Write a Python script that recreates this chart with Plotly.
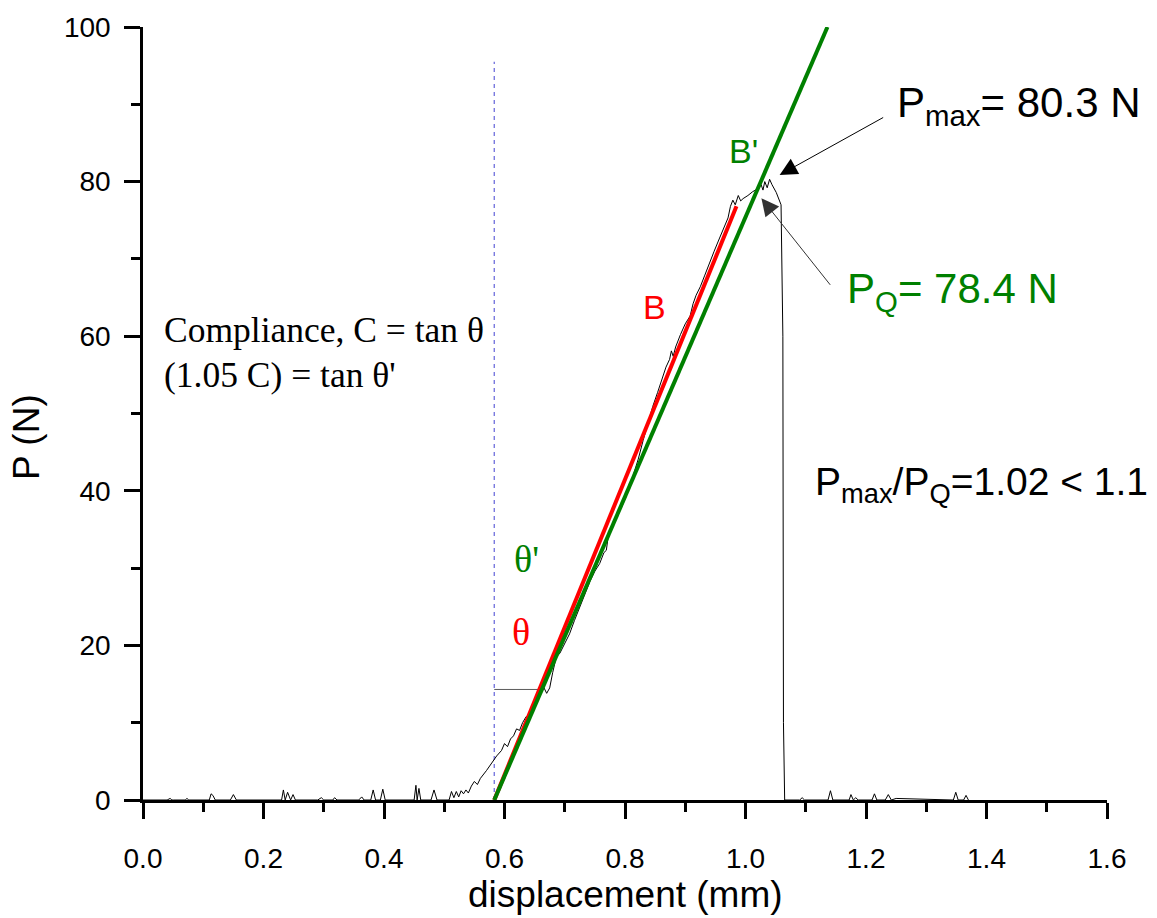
import plotly.graph_objects as go

# ---- data ----
disp = [0.0, 0.040, 0.045, 0.048, 0.051, 0.070, 0.073, 0.076, 0.110, 0.113, 0.116, 0.120,
        0.145, 0.150, 0.155, 0.230, 0.233, 0.236, 0.240, 0.245, 0.249, 0.253,
        0.290, 0.296, 0.300, 0.315, 0.318, 0.322, 0.358, 0.363, 0.367, 0.378, 0.382, 0.386,
        0.394, 0.398, 0.402, 0.450, 0.453, 0.455, 0.458, 0.461, 0.478, 0.483, 0.488, 0.500,
        0.508, 0.512, 0.516, 0.520, 0.524, 0.528, 0.532, 0.536, 0.540, 0.545, 0.550, 0.555,
        0.560, 0.570, 0.580, 0.587, 0.595, 0.600, 0.605, 0.610, 0.615, 0.620, 0.625, 0.630,
        0.636, 0.640, 0.645, 0.650, 0.655, 0.660, 0.665, 0.670, 0.675, 0.680, 0.686, 0.692,
        0.700, 0.708, 0.716, 0.725, 0.733, 0.742, 0.750, 0.758, 0.765, 0.769, 0.772, 0.780,
        0.790, 0.800, 0.808, 0.815, 0.822, 0.830, 0.838, 0.846, 0.854, 0.862, 0.868, 0.874,
        0.877, 0.880, 0.884, 0.892, 0.900, 0.908, 0.913, 0.918, 0.925, 0.932, 0.940, 0.948,
        0.957, 0.964, 0.971, 0.975, 0.979, 0.983, 0.988, 0.992, 0.996, 1.004, 1.012, 1.021,
        1.026, 1.029, 1.032, 1.036, 1.040, 1.044, 1.051, 1.059, 1.062, 1.063, 1.065,
        1.090, 1.094, 1.098, 1.137, 1.141, 1.145, 1.172, 1.175, 1.179, 1.183, 1.187,
        1.210, 1.214, 1.218, 1.232, 1.237, 1.242, 1.250, 1.345, 1.349, 1.353, 1.362, 1.366,
        1.370]
load = [0.0, 0.0, 0.2, 0.0, 0.0, 0.0, 0.2, 0.0, 0.0, 0.8, 0.6, 0.0,
        0.0, 0.7, 0.0, 0.0, 1.3, 0.0, 1.0, 0.0, 0.7, 0.0,
        0.0, 0.3, 0.0, 0.0, 0.3, 0.0, 0.0, 0.4, 0.0, 0.0, 1.3, 0.0,
        0.0, 1.4, 0.0, 0.0, 1.9, 0.0, 1.5, 0.0, 0.0, 1.3, 0.0, 0.0,
        0.0, 1.1, 0.3, 1.1, 0.4, 1.2, 0.8, 1.3, 0.9, 1.8, 2.4, 2.0,
        2.8, 3.8, 5.0, 5.7, 6.4, 7.3, 6.9, 7.9, 8.3, 9.2, 9.0, 10.0,
        10.8, 10.6, 11.4, 12.6, 13.4, 14.0, 14.6, 13.8, 14.5, 16.5, 18.5, 19.0,
        20.3, 21.5, 23.2, 25.0, 26.7, 28.3, 29.6, 30.6, 32.0, 32.3, 34.0, 35.4,
        37.2, 38.9, 40.6, 42.2, 44.1, 46.5, 48.8, 50.9, 52.7, 54.6, 56.0, 57.0,
        58.1, 57.4, 58.6, 60.2, 61.6, 62.6, 64.2, 65.3, 66.4, 67.8, 69.5, 71.0,
        72.7, 74.0, 75.3, 76.8, 77.6, 77.0, 78.2, 77.5, 77.8, 78.2, 78.7, 79.1,
        79.6, 78.9, 80.0, 79.2, 80.3, 79.6, 78.6, 77.0, 60.0, 10.0, 0.0,
        0.0, 0.3, 0.0, 0.0, 1.2, 0.0, 0.0, 0.7, 0.0, 0.3, 0.0,
        0.0, 0.8, 0.0, 0.0, 0.7, 0.0, 0.2, 0.0, 1.0, 0.0, 0.0, 0.6,
        0.0]

# secant lines (compliance C and 1.05 C), start at point A
red_x = [0.583, 0.985]
red_y = [0.0, 76.8]
green_x = [0.583, 1.136]
green_y = [0.0, 100.0]

# construction lines
dash_x = [0.583, 0.583]
dash_y = [0.0, 95.5]
hline_x = [0.583, 0.658]
hline_y = [14.3, 14.3]

x_ticks = [0.0, 0.2, 0.4, 0.6, 0.8, 1.0, 1.2, 1.4, 1.6]
y_ticks = [0, 20, 40, 60, 80, 100]

GREEN = "rgb(0,128,0)"
RED = "rgb(255,0,0)"
SANS = "Liberation Sans, Arial, sans-serif"
SERIF = "Liberation Serif, Times New Roman, serif"

fig = go.Figure()
fig.add_trace(go.Scatter(x=dash_x, y=dash_y, mode="lines",
                         line=dict(color="rgb(110,110,220)", width=1.3, dash="4px,4px")))
fig.add_trace(go.Scatter(x=hline_x, y=hline_y, mode="lines",
                         line=dict(color="rgb(90,90,90)", width=1)))
fig.add_trace(go.Scatter(x=disp, y=load, mode="lines",
                         line=dict(color="black", width=1)))
fig.add_trace(go.Scatter(x=red_x, y=red_y, mode="lines",
                         line=dict(color=RED, width=4)))
fig.add_trace(go.Scatter(x=green_x, y=green_y, mode="lines",
                         line=dict(color=GREEN, width=4)))

ann = []
def txt(x, y, s, size, color="black", family=SANS, xanchor="center", yanchor="middle"):
    ann.append(dict(x=x, y=y, xref="x", yref="y", text=s, showarrow=False,
                    font=dict(size=size, color=color, family=family),
                    xanchor=xanchor, yanchor=yanchor))

txt(1.2475, 89.9, "P<sub>max</sub>= 80.3 N", 42, xanchor="left")
txt(1.1646, 65.8, "P<sub>Q</sub>= 78.4 N", 42, color=GREEN, xanchor="left")
txt(1.1115, 40.8, "P<sub>max</sub>/P<sub>Q</sub>=1.02 < 1.1", 39, xanchor="left")
txt(0.0307, 60.77, "Compliance, C = tan θ", 35.5, family=SERIF, xanchor="left")
txt(0.0307, 54.97, "(1.05 C) = tan θ'", 35.5, family=SERIF, xanchor="left")
txt(0.637, 31.2, "θ'", 38, color=GREEN, family=SERIF)
txt(0.628, 21.7, "θ", 38, color=RED, family=SERIF)
txt(0.5723, -2.19, "A", 31, color=RED)
txt(0.849, 63.8, "B", 34, color=RED)
txt(0.997, 83.9, "B'", 34, color=GREEN)

# arrows
ann.append(dict(x=1.0567, y=80.86, ax=1.231, ay=88.4, xref="x", yref="y",
                axref="x", ayref="y", text="", showarrow=True, arrowhead=2,
                arrowsize=3.5, arrowwidth=1, arrowcolor="black"))
ann.append(dict(x=1.0264, y=77.85, ax=1.1426, ay=66.45, xref="x", yref="y",
                axref="x", ayref="y", text="", showarrow=True, arrowhead=2,
                arrowsize=3.5, arrowwidth=1, arrowcolor="rgb(50,50,50)"))

# axis titles
ann.append(dict(x=0.5, y=-0.122, xref="paper", yref="paper", text="displacement (mm)",
                showarrow=False, font=dict(size=37, family=SANS, color="black"),
                xanchor="center", yanchor="middle"))
ann.append(dict(x=-0.1203, y=0.4697, xref="paper", yref="paper", text="P (N)",
                showarrow=False, font=dict(size=37, family=SANS, color="black"),
                textangle=-90, xanchor="center", yanchor="middle"))

fig.update_layout(
    width=1157, height=918,
    margin=dict(l=143, r=50, t=25, b=118),
    paper_bgcolor="white", plot_bgcolor="white",
    showlegend=False,
    annotations=ann,
    font=dict(family=SANS, color="black"),
)
fig.update_xaxes(range=[0, 1.6], tickvals=x_ticks, ticktext=[f"{v:.1f}" for v in x_ticks],
                 showline=True, linecolor="black", linewidth=2.5, mirror=False,
                 ticks="outside", ticklen=16, tickwidth=2.5, tickcolor="black",
                 minor=dict(dtick=0.1, tick0=0, ticks="outside", ticklen=9, tickwidth=2.5, tickcolor="black"),
                 showgrid=False, zeroline=False,
                 tickfont=dict(size=28, family=SANS, color="black"),
                 ticklabelstandoff=16)
fig.update_yaxes(range=[0, 100], tickvals=y_ticks, ticktext=[str(v) for v in y_ticks],
                 showline=True, linecolor="black", linewidth=2.5, mirror=False,
                 ticks="outside", ticklen=16, tickwidth=2.5, tickcolor="black",
                 minor=dict(dtick=10, tick0=0, ticks="outside", ticklen=9, tickwidth=2.5, tickcolor="black"),
                 showgrid=False, zeroline=False,
                 tickfont=dict(size=28, family=SANS, color="black"),
                 ticklabelstandoff=8)

fig.write_html("out.html")
